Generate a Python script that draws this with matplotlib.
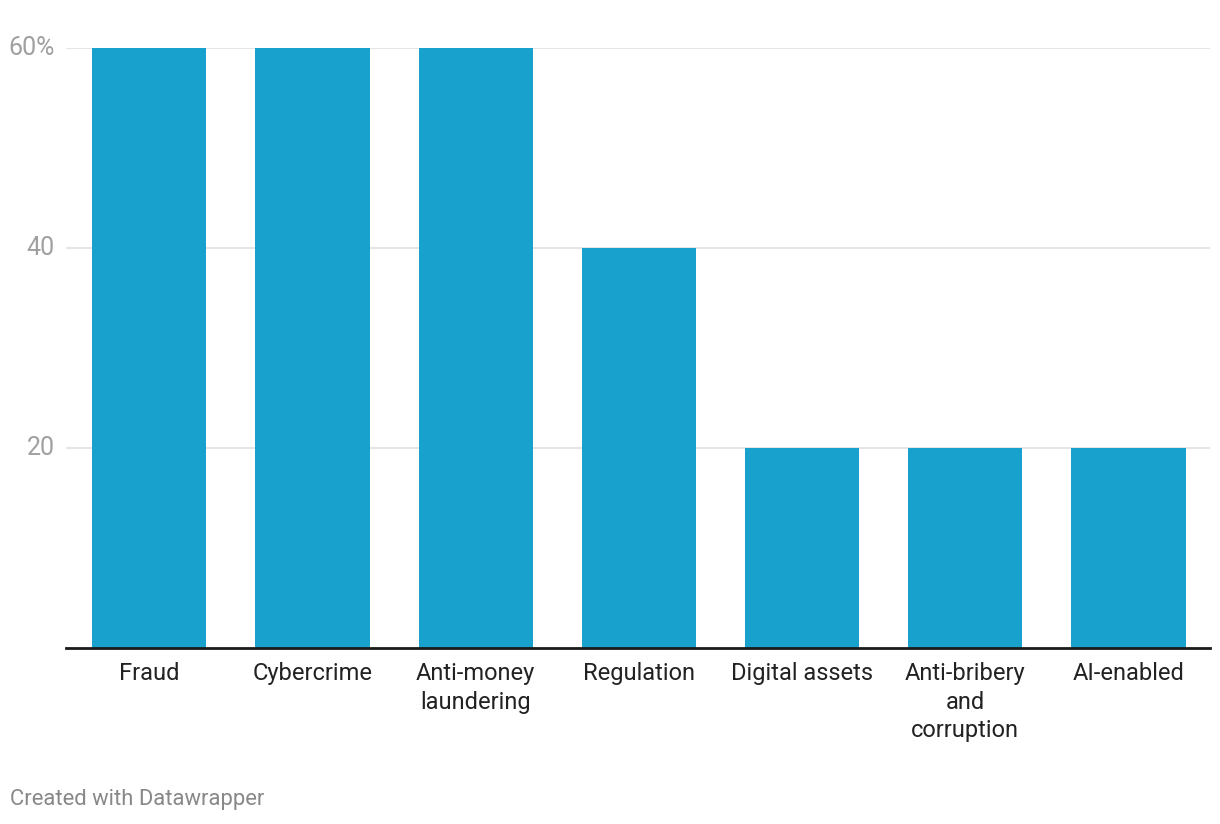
import matplotlib
matplotlib.use("Agg")
from matplotlib import pyplot as plt

categories = ["Fraud", "Cybercrime", "Anti-money\nlaundering", "Regulation",
              "Digital assets", "Anti-bribery\nand\ncorruption", "AI-enabled"]
values = [60, 60, 60, 40, 20, 20, 20]
yticks = [20, 40, 60]
ytick_labels = ["20", "40", "60%"]

plt.rcParams['font.family'] = ['Roboto', 'DejaVu Sans']

fig = plt.figure(figsize=(12.2, 8.24), dpi=100)
ax = fig.add_axes([66/1220, (824-648)/824, (1210-66)/1220, 600/824])

x = list(range(len(categories)))
ax.bar(x, values, width=0.70, color="#18a1cd", zorder=2)

ax.set_xlim(-0.51, 6.5)
ax.set_ylim(0, 60)
ax.set_yticks(yticks)
ax.set_yticklabels(ytick_labels, color="#a0a0a0", fontsize=18)
ax.set_xticks(x)
ax.set_xticklabels(categories, fontsize=17, color="#222222", linespacing=1.32)
ax.tick_params(axis="y", length=0, pad=8)
ax.tick_params(axis="x", length=0, pad=10)
for lab in ax.get_yticklabels():
    lab.set_verticalalignment("center")

ax.grid(axis="y", color="#e0e0e0", linewidth=1.2, zorder=0)
for s in ["top", "right", "left"]:
    ax.spines[s].set_visible(False)
ax.spines["bottom"].set_color("#1a1a1a")
ax.spines["bottom"].set_linewidth(2)
ax.spines["bottom"].set_zorder(3)

fig.text(10/1220, 1 - 800/824, "Created with Datawrapper", fontsize=15.8,
         color="#888888", va="center", ha="left")

fig.savefig("out.png", dpi=100)
